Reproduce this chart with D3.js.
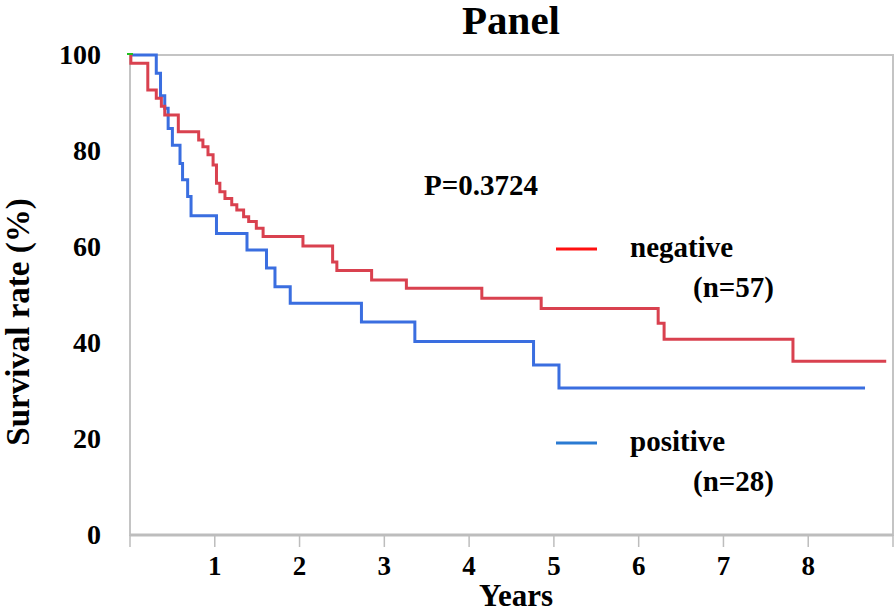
<!DOCTYPE html>
<html>
<head>
<meta charset="utf-8">
<script src="https://cdn.jsdelivr.net/npm/d3@7"></script>
<style>
  body { margin: 0; background: #fff; }
  svg text { font-family: "Liberation Serif", "Times New Roman", serif; font-weight: bold; fill: #000; }
</style>
</head>
<body>
<svg width="896" height="611"></svg>
<script>
// survival curves (years, %)
const negTimes = [0, 0.01, 0.21, 0.31, 0.37, 0.41, 0.57, 0.81, 0.86, 0.92, 0.98, 1.02, 1.06, 1.12, 1.20, 1.26, 1.34, 1.40, 1.49, 1.57, 2.04, 2.39, 2.44, 2.85, 3.26, 4.15, 4.85, 6.23, 6.30, 7.82, 8.92];
const negSurv  = [100, 98.3, 92.7, 91.0, 89.3, 87.5, 84.0, 82.3, 80.9, 79.2, 77.1, 73.3, 71.5, 70.1, 68.8, 67.7, 66.3, 65.3, 63.9, 62.2, 60.2, 56.9, 55.1, 53.1, 51.4, 49.3, 47.2, 44.1, 40.8, 36.2, 36.2];

const posTimes = [0, 0.31, 0.36, 0.41, 0.45, 0.50, 0.59, 0.62, 0.68, 0.72, 1.02, 1.38, 1.61, 1.71, 1.89, 2.73, 3.36, 4.76, 5.06, 8.67];
const posSurv  = [100, 96.2, 91.5, 88.9, 84.7, 81.2, 77.4, 74.0, 70.5, 66.5, 62.8, 59.4, 55.6, 51.7, 48.3, 44.4, 40.3, 35.4, 30.6, 30.6];

const xTicks = [0, 1, 2, 3, 4, 5, 6, 7, 8, 9];
const xLabels = [1, 2, 3, 4, 5, 6, 7, 8];
const yTicks = [0, 20, 40, 60, 80, 100];

const svg = d3.select('svg');
const x = d3.scaleLinear().domain([0, 9]).range([130, 893]);
const y = d3.scaleLinear().domain([0, 100]).range([535, 55]);

// plot frame
svg.append('rect')
  .attr('x', x(0)).attr('y', y(100))
  .attr('width', x(9) - x(0)).attr('height', y(0) - y(100))
  .attr('fill', 'none').attr('stroke', '#c4c4c4').attr('stroke-width', 2);

// x axis
svg.append('line')
  .attr('x1', x(0)).attr('x2', x(9)).attr('y1', y(0)).attr('y2', y(0))
  .attr('stroke', '#bdbdbd').attr('stroke-width', 3);

svg.selectAll('.xtick').data(xTicks).enter().append('line')
  .attr('x1', d => x(d)).attr('x2', d => x(d))
  .attr('y1', y(0)).attr('y2', y(0) + 12)
  .attr('stroke', '#bdbdbd').attr('stroke-width', 1.5);

svg.selectAll('.xlab').data(xLabels).enter().append('text')
  .attr('x', d => x(d)).attr('y', 575)
  .attr('text-anchor', 'middle').attr('font-size', 27)
  .text(d => d);

svg.selectAll('.ylab').data(yTicks).enter().append('text')
  .attr('x', 101).attr('y', d => y(d) + 9)
  .attr('text-anchor', 'end').attr('font-size', 28)
  .text(d => d);

// titles
svg.append('text').attr('x', 511).attr('y', 34)
  .attr('text-anchor', 'middle').attr('font-size', 41).text('Panel');

svg.append('text').attr('x', 516).attr('y', 606)
  .attr('text-anchor', 'middle').attr('font-size', 31).text('Years');

svg.append('text')
  .attr('transform', 'translate(29,322) rotate(-90)')
  .attr('text-anchor', 'middle').attr('font-size', 33)
  .text('Survival rate (%)');

svg.append('text').attr('x', 424).attr('y', 195)
  .attr('font-size', 29).text('P=0.3724');

// curves
const line = d3.line()
  .x(d => x(d[0])).y(d => y(d[1]))
  .curve(d3.curveStepAfter);

svg.append('path')
  .datum(d3.zip(posTimes, posSurv))
  .attr('d', line)
  .attr('fill', 'none').attr('stroke', '#3a6ee0').attr('stroke-width', 3);

svg.append('path')
  .datum(d3.zip(negTimes, negSurv))
  .attr('d', line)
  .attr('fill', 'none').attr('stroke', '#d9414f').attr('stroke-width', 3);

// small green start mark
svg.append('line')
  .attr('x1', x(0) - 3).attr('x2', x(0) + 3).attr('y1', y(100) - 1).attr('y2', y(100) - 1)
  .attr('stroke', '#22c022').attr('stroke-width', 2);

// legend
const legend = [
  { name: 'negative', n: '(n=57)', color: '#ff1010', y: 249 },
  { name: 'positive', n: '(n=28)', color: '#2a7ad2', y: 443 }
];
legend.forEach(function(l) {
  svg.append('line')
    .attr('x1', 556).attr('x2', 597).attr('y1', l.y).attr('y2', l.y)
    .attr('stroke', l.color).attr('stroke-width', 3);
  svg.append('text').attr('x', 630).attr('y', l.y + 8)
    .attr('font-size', 29).text(l.name);
  svg.append('text').attr('x', 693).attr('y', l.y + 48)
    .attr('font-size', 29).text(l.n);
});
</script>
</body>
</html>
